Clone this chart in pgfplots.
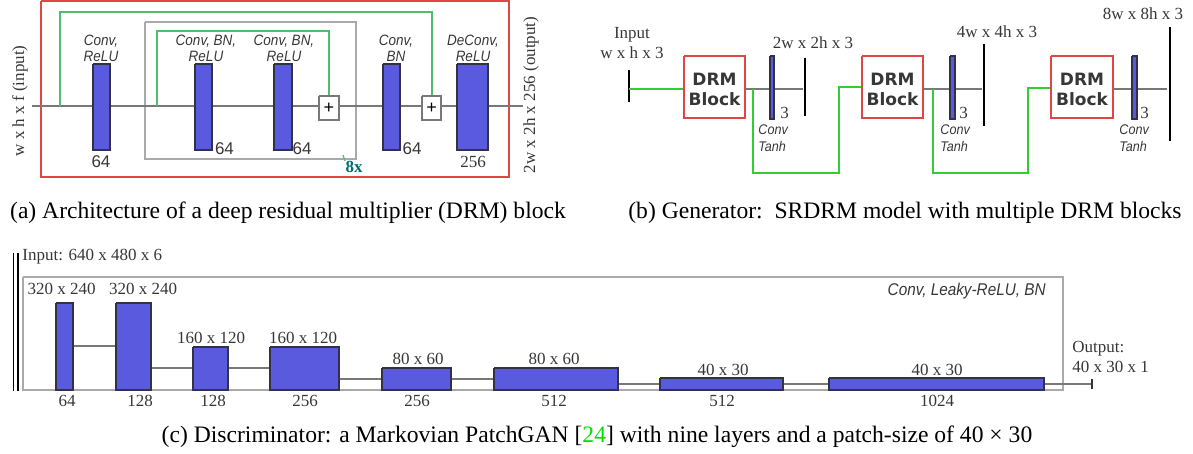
\documentclass[border=0pt]{standalone}
\usepackage{fontspec}
\usepackage{xcolor}
\usepackage{pgfplots}
\pgfplotsset{compat=1.18}
\setmainfont{Liberation Serif}
\newfontfamily\sansf{Liberation Sans}
\newfontfamily\itf[FakeStretch=0.9]{Liberation Sans}
\newfontfamily\drmf{DejaVu Sans}

\definecolor{barblue}{RGB}{90,90,222}
\definecolor{bardark}{RGB}{50,50,70}
\definecolor{redbox}{RGB}{225,70,70}
\definecolor{greena}{RGB}{80,190,110}
\definecolor{greenb}{RGB}{50,205,50}
\definecolor{lineg}{RGB}{120,120,120}
\definecolor{boxg}{RGB}{170,170,170}
\definecolor{txt}{RGB}{55,55,55}
\definecolor{tealx}{RGB}{0,110,110}
\definecolor{capgreen}{RGB}{0,225,0}

\tikzset{
  blk/.style={fill=barblue, draw=bardark, line width=0.6pt},
  conn/.style={draw=lineg, line width=0.6pt},
  lab/.style={text=txt, inner sep=0pt},
  itl/.style={lab, font=\itf\itshape\fontsize{7.5}{8}\selectfont},
  tnh/.style={lab, anchor=west, align=left, font=\itf\itshape\fontsize{7}{8.5}\selectfont},
  num/.style={lab, font=\fontsize{8.5}{9}\selectfont},
  snum/.style={lab, font=\sansf\fontsize{8.5}{9}\selectfont},
  drm/.style={lab, align=center, font=\drmf\bfseries\fontsize{8.5}{10}\selectfont},
  capt/.style={inner sep=0pt, font=\fontsize{11.8}{13}\selectfont},
}
% rectangle from (x1,y1) to (x2,y2), pixel units, y downwards
\newcommand{\rect}[5][]{\addplot[#1] coordinates {(#2,#3) (#4,#3) (#4,#5) (#2,#5) (#2,#3)};}

\begin{document}
\begin{tikzpicture}
\begin{axis}[
  width=596.5pt, height=227pt, scale only axis,
  xmin=0, xmax=1193, ymin=0, ymax=454, y dir=reverse,
  hide axis, clip=false,
]
\addplot[draw=none] coordinates {(0,0) (1193,454)};

% ---------- (a) DRM block ----------
\rect[draw=redbox, line width=0.6pt]{41}{1}{509}{177}
\rect[draw=boxg, line width=0.8pt]{145}{22}{356}{159}
\addplot[conn] coordinates {(32,106) (523,106)};
\addplot[draw=greena, line width=0.6pt] coordinates {(60,106) (60,12) (432,12) (432,96)};
\addplot[draw=greena, line width=0.6pt] coordinates {(157,106) (157,31) (329,31) (329,96)};
\addplot[draw=greena, line width=0.6pt] coordinates {(343,155) (345,161)};
\rect[blk]{93}{64}{110}{150}
\rect[blk]{195}{64}{212}{150}
\rect[blk]{274}{64}{292}{150}
\rect[blk]{383}{64}{400}{150}
\rect[blk]{457}{64}{488}{150}
\rect[fill=white, draw=lineg, line width=0.6pt]{319}{96}{339}{120}
\rect[fill=white, draw=lineg, line width=0.6pt]{422}{96}{441}{120}
\node[lab, text=black, font=\sansf\fontsize{9}{9}\selectfont] at (axis cs:329,108) {+};
\node[lab, text=black, font=\sansf\fontsize{9}{9}\selectfont] at (axis cs:431.5,108) {+};

\node[itl, align=center] at (axis cs:101,48) {Conv,\\ReLU};
\node[itl, align=center] at (axis cs:206,48) {Conv, BN,\\ReLU};
\node[itl, align=center] at (axis cs:284,48) {Conv, BN,\\ReLU};
\node[itl, align=center] at (axis cs:396,48) {Conv,\\BN};
\node[itl, align=center] at (axis cs:473,48) {DeConv,\\ReLU};

\node[snum] at (axis cs:101,162) {64};
\node[snum] at (axis cs:224.5,149) {64};
\node[snum] at (axis cs:302,149) {64};
\node[snum] at (axis cs:412,149) {64};
\node[num] at (axis cs:473,162) {256};
\node[lab, text=tealx, font=\fontsize{8.5}{9}\selectfont\bfseries] at (axis cs:354,167) {8x};

\node[num, rotate=90] at (axis cs:20,101) {w x h x f (input)};
\node[num, rotate=90] at (axis cs:531,95) {2w x 2h x 256 (output)};

\node[capt] at (axis cs:288,213) {(a) Architecture of a deep residual multiplier (DRM) block};

% ---------- (b) Generator ----------
\addplot[draw=black, line width=0.8pt] coordinates {(629,70) (629,102)};
\node[num, align=center, font=\fontsize{8.5}{10}\selectfont] at (axis cs:632,43) {Input\\w x h x 3};
\addplot[draw=greenb, line width=0.7pt] coordinates {(629,89) (684,89)};
\rect[fill=white, draw=redbox, line width=0.7pt]{684}{56}{745}{118}
\addplot[conn, line width=0.8pt] coordinates {(745,89) (803,89)};
\addplot[draw=greenb, line width=0.7pt] coordinates {(753,89) (753,173) (839,173) (839,87) (862,87)};
\rect[blk]{770}{56}{774}{119}
\addplot[draw=black, line width=0.8pt] coordinates {(805,58) (805,116)};
\node[num] at (axis cs:813,43) {2w x 2h x 3};

\rect[fill=white, draw=redbox, line width=0.7pt]{862}{56}{923}{118}
\addplot[conn, line width=0.8pt] coordinates {(923,89) (982,89)};
\addplot[draw=greenb, line width=0.7pt] coordinates {(933,89) (933,173) (1028,173) (1028,88) (1051,88)};
\rect[blk]{950}{56}{955}{119}
\addplot[draw=black, line width=0.8pt] coordinates {(984,44) (984,126)};
\node[num] at (axis cs:997,32) {4w x 4h x 3};

\rect[fill=white, draw=redbox, line width=0.7pt]{1051}{56}{1113}{118}
\addplot[conn, line width=0.8pt] coordinates {(1113,89) (1167,89)};
\rect[blk]{1132}{56}{1137}{119}
\addplot[draw=black, line width=0.8pt] coordinates {(1170,27) (1170,141)};
\node[num] at (axis cs:1143,14) {8w x 8h x 3};

\node[drm] at (axis cs:714.5,89) {DRM\\Block};
\node[drm] at (axis cs:892.5,89) {DRM\\Block};
\node[drm] at (axis cs:1082,89) {DRM\\Block};

\node[num, anchor=west] at (axis cs:780,113) {3};
\node[num, anchor=west] at (axis cs:959,113) {3};
\node[num, anchor=west] at (axis cs:1140,113) {3};
\node[tnh] at (axis cs:758,138.5) {Conv\\Tanh};
\node[tnh] at (axis cs:940,138.5) {Conv\\Tanh};
\node[tnh] at (axis cs:1119,138.5) {Conv\\Tanh};

\node[capt] at (axis cs:905,213) {(b) Generator:\ \ SRDRM model with multiple DRM blocks};

% ---------- (c) Discriminator ----------
\addplot[draw=black, line width=0.8pt] coordinates {(13.5,253) (13.5,391)};
\addplot[draw=black, line width=0.8pt] coordinates {(18,253) (18,391)};
\node[num, anchor=west] at (axis cs:22,257) {Input: 640 x 480 x 6};
\rect[draw=boxg, line width=0.8pt]{23}{277}{1063}{390}
\node[lab, anchor=east, font=\itf\itshape\fontsize{8.5}{9}\selectfont] at (axis cs:1046,291) {Conv, Leaky-ReLU, BN};

\addplot[conn] coordinates {(73,346) (116,346)};
\addplot[conn] coordinates {(151,368) (193,368)};
\addplot[conn] coordinates {(228,368) (270,368)};
\addplot[conn] coordinates {(339,379) (382,379)};
\addplot[conn] coordinates {(451,379) (494,379)};
\addplot[conn] coordinates {(618,384) (660,384)};
\addplot[conn] coordinates {(783,384) (829,384)};
\addplot[conn] coordinates {(1044,384) (1091,384)};
\addplot[draw=bardark, line width=1pt] coordinates {(1092,379) (1092,389)};

\rect[blk]{56}{303}{73}{390}
\rect[blk]{116}{303}{151}{390}
\rect[blk]{193}{347}{228}{390}
\rect[blk]{270}{347}{339}{390}
\rect[blk]{382}{368}{451}{390}
\rect[blk]{494}{368}{618}{390}
\rect[blk]{660}{378}{783}{390}
\rect[blk]{829}{378}{1044}{390}

\node[num] at (axis cs:61.5,289) {320 x 240};
\node[num] at (axis cs:143,289) {320 x 240};
\node[num] at (axis cs:211,338) {160 x 120};
\node[num] at (axis cs:303,338) {160 x 120};
\node[num] at (axis cs:418,359) {80 x 60};
\node[num] at (axis cs:554,359) {80 x 60};
\node[num] at (axis cs:723,370) {40 x 30};
\node[num] at (axis cs:937,370) {40 x 30};

\node[num] at (axis cs:67,401) {64};
\node[num] at (axis cs:140,401) {128};
\node[num] at (axis cs:213,401) {128};
\node[num] at (axis cs:305,401) {256};
\node[num] at (axis cs:417,401) {256};
\node[num] at (axis cs:554,401) {512};
\node[num] at (axis cs:722,401) {512};
\node[num] at (axis cs:937,401) {1024};

\node[num, anchor=west, align=left, font=\fontsize{8.5}{10}\selectfont] at (axis cs:1072,357) {Output:\\40 x 30 x 1};

\node[capt] at (axis cs:597,437) {(c) Discriminator: a Markovian PatchGAN [\textcolor{capgreen}{24}] with nine layers and a patch-size of 40 × 30};
\end{axis}
\end{tikzpicture}
\end{document}
